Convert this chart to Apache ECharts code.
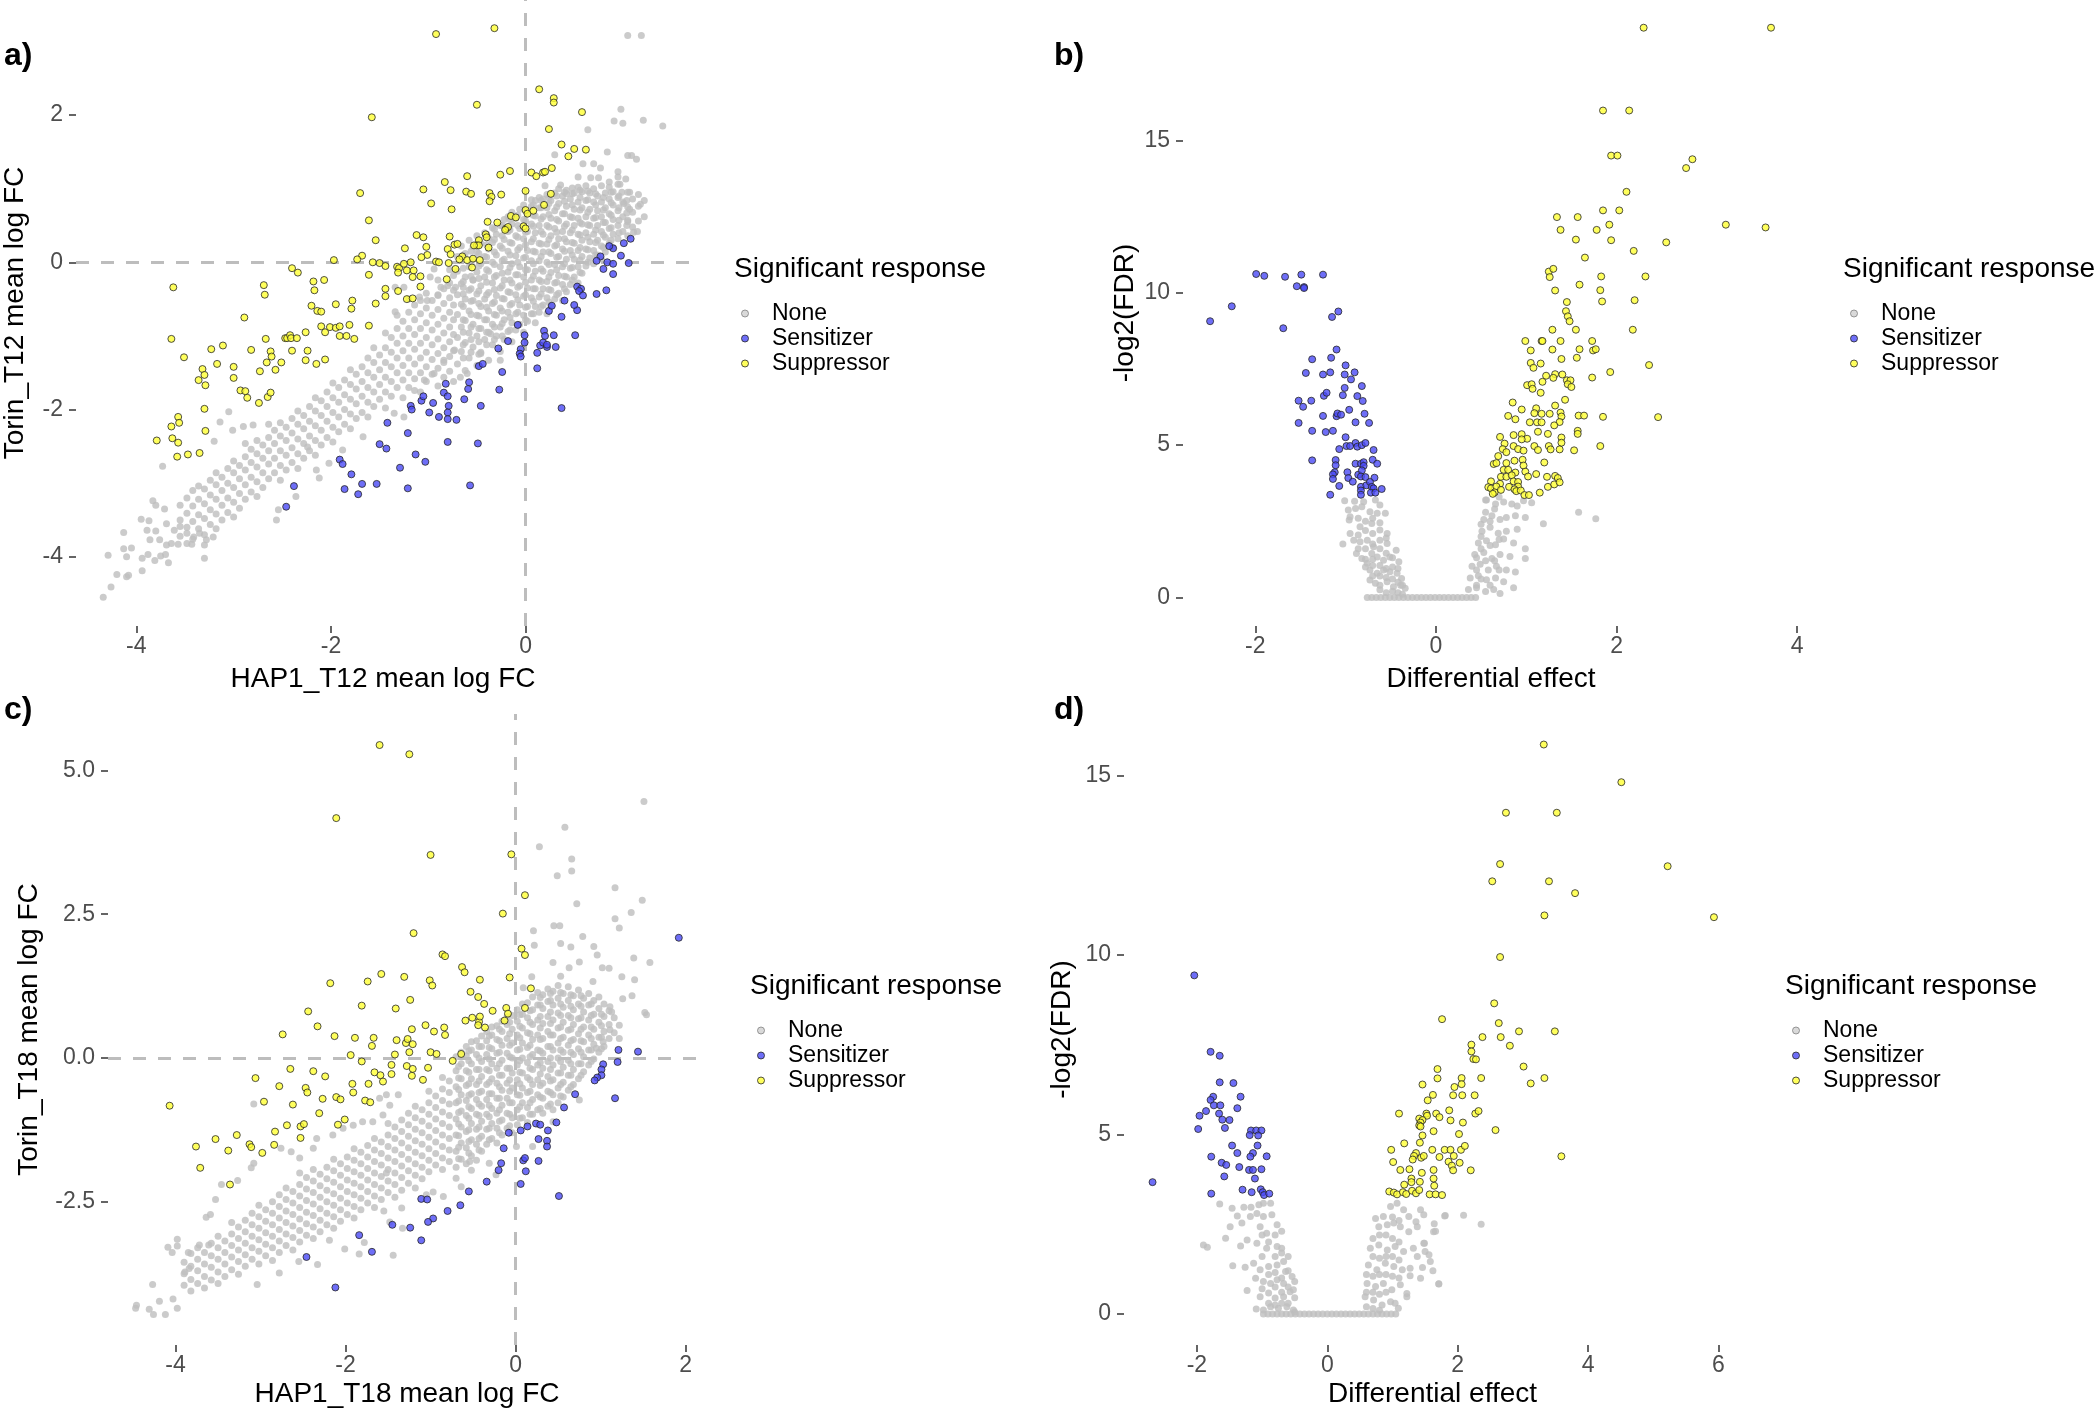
<!DOCTYPE html>
<html><head><meta charset="utf-8">
<script src="https://cdn.jsdelivr.net/npm/echarts@6/dist/echarts.min.js"></script>
<style>html,body{margin:0;padding:0;background:#fff}#c{width:2100px;height:1412px}</style>
</head><body><div id="c"></div>
<script>
// ---------------- tick labels ----------------
const aXTicks=[-4,-2,0], aYTicks=[-4,-2,0,2];
const bXTicks=[-2,0,2,4], bYTicks=[0,5,10,15];
const cXTicks=[-4,-2,0,2], cYTicks=[-2.5,0,2.5,5];
const dXTicks=[-2,0,2,4,6], dYTicks=[0,5,10,15];
const legendNames=['None','Sensitizer','Suppressor'];

// ---------------- panel a : HAP1_T12 vs Torin_T12 ----------------
const aSens=[[-1.42,-2.18],[-1.50,-2.47],[-1.43,-2.53],[-1.91,-2.68],[-1.88,-2.74],[-1.79,-2.88],[-1.68,-3.01],[-1.53,-3.01],[-1.86,-3.08],[-1.72,-3.15],[-2.38,-3.04],[-2.46,-3.32],
[-1.29,-2.79],[-1.21,-3.07],[-1.13,-2.61],[-1.03,-2.71],[-1.21,-2.32],[-1.18,-1.95],[-1.17,-2.00],[-1.07,-1.88],[-1.05,-1.82],[-0.95,-1.91],[-0.99,-2.04],[-0.89,-2.10],[-0.82,-1.65],[-0.84,-1.77],[-0.80,-1.82],[-0.79,-1.95],[-0.80,-2.04],[-0.80,-2.13],[-0.71,-2.14],[-0.80,-2.44],[-0.49,-2.46],[-0.57,-3.03],[-0.63,-1.86],[-0.59,-1.72],[-0.58,-1.63],[-0.46,-1.95],[-0.48,-1.41],[-0.44,-1.38],[-0.27,-1.73],[-0.24,-1.49],[-0.28,-1.17],[-0.18,-1.07],[-0.01,-0.99],[-0.01,-1.09],[-0.05,-1.18],[-0.06,-1.24],[-0.05,-1.28],[-0.08,-0.85],[0.12,-1.23],[0.12,-1.44],[0.15,-1.13],[0.18,-1.09],[0.22,-1.15],[0.22,-1.12],[0.19,-0.93],[0.20,-1.00],[0.29,-0.99],[0.31,-1.15],[0.51,-0.99],[0.37,-1.98],[0.37,-0.74],[0.24,-0.66],[0.53,-0.65],
[1.08,0.32],[1.01,0.26],[0.98,0.09],[1.06,-0.01],[0.90,0.19],[0.86,0.22],[0.77,0.08],[0.73,0.02],[0.84,0.00],[0.90,-0.02],[0.80,-0.09],[0.90,-0.16],[0.53,-0.33],[0.57,-0.36],[0.55,-0.39],[0.59,-0.45],[0.73,-0.43],[0.83,-0.38],[0.40,-0.52],[0.27,-0.59],[0.50,-0.58]];
const aSupp=[[-1.58,1.97],[-1.70,0.94],[-1.61,0.57],[-1.54,0.30],[-1.68,0.09],[-1.73,0.04],[-1.97,0.03],[-1.57,0.00],[-1.50,-0.01],[-1.44,-0.05],[-1.61,-0.17],[-2.40,-0.08],[-2.34,-0.14],[-2.18,-0.26],[-2.07,-0.24],[-2.17,-0.38],[-3.62,-0.34],[-2.69,-0.31],[-2.68,-0.44],[-1.78,-0.52],[-1.95,-0.57],[-1.54,-0.56],[-1.44,-0.46],[-1.44,-0.36],[-2.20,-0.59],[-2.14,-0.66],[-2.10,-0.67],[-1.79,-0.63],
[-2.89,-0.75],[-3.64,-1.04],[-3.51,-1.29],[-3.23,-1.18],[-3.11,-1.13],[-3.17,-1.38],[-3.32,-1.45],[-3.30,-1.53],[-3.36,-1.60],[-3.29,-1.67],[-3.00,-1.42],[-3.00,-1.57],[-2.82,-1.19],[-2.67,-1.04],[-2.62,-1.21],[-2.61,-1.28],[-2.66,-1.36],[-2.73,-1.48],[-2.57,-1.46],[-2.51,-1.36],[-2.47,-1.03],[-2.45,-1.03],[-2.42,-0.99],[-2.41,-1.03],[-2.35,-1.03],[-2.26,-0.95],[-2.40,-1.20],[-2.24,-1.20],[-2.26,-1.33],[-2.15,-1.38],[-2.06,-1.32],[-2.10,-0.87],[-2.06,-0.95],[-2.01,-0.88],[-1.95,-0.89],[-1.91,-0.87],[-1.81,-0.85],[-1.61,-0.86],[-1.91,-1.00],[-1.84,-1.00],[-1.76,-1.04],[-2.93,-1.74],[-2.88,-1.75],[-2.86,-1.84],[-2.74,-1.91],[-2.65,-1.83],[-2.62,-1.77],[-3.30,-1.99],[-3.57,-2.10],[-3.56,-2.18],[-3.64,-2.23],[-3.29,-2.29],[-3.79,-2.42],[-3.63,-2.39],[-3.57,-2.45],[-3.58,-2.64],[-3.47,-2.61],[-3.35,-2.59],
[-0.92,3.10],[-0.32,3.18],[-0.50,2.14],[0.14,2.35],[0.29,2.23],[0.29,2.17],[0.58,2.04],[0.24,1.81],[0.37,1.60],[0.50,1.54],[0.62,1.53],[0.44,1.44],[0.27,1.28],[0.18,1.22],[0.20,1.23],[0.06,1.22],[0.11,1.17],[-0.16,1.24],[-0.26,1.19],[-0.60,1.17],[-0.83,1.09],[-0.77,0.98],[-1.05,0.99],[-0.61,0.96],[-0.56,0.93],[-0.37,0.94],[-0.35,0.89],[-0.37,0.83],[-0.25,0.92],[0.00,0.97],[0.26,0.93],[-0.97,0.80],[-0.76,0.72],[0.19,0.78],[0.00,0.71],[0.02,0.66],[0.08,0.70],[-0.15,0.63],[-0.10,0.61],[-0.39,0.55],[-0.29,0.54],[-0.20,0.46],[-0.18,0.48],[-0.21,0.44],[-0.02,0.49],[0.00,0.46],[-1.12,0.37],[-1.05,0.34],[-0.78,0.35],[-0.41,0.38],[-0.40,0.34],[-0.48,0.30],[-0.50,0.23],[-0.48,0.23],[-0.53,0.23],[-0.38,0.20],[-0.73,0.24],[-0.70,0.25],[-0.80,0.18],[-0.77,0.11],[-1.02,0.21],[-1.01,0.10],[-1.07,0.07],[-1.24,0.19],[-0.65,0.08],[-0.60,0.03],[-0.54,0.05],[-0.47,0.03],[-0.55,-0.07],[-0.68,0.04],[-0.92,0.01],[-0.89,0.00],[-0.79,-0.01],[-0.72,-0.09],[-0.81,-0.23],[-1.32,-0.06],[-1.30,-0.08],[-1.31,-0.14],[-1.25,-0.02],[-1.18,0.00],[-1.22,-0.11],[-1.15,-0.11],[-1.16,-0.20],[-1.08,-0.19],[-1.08,-0.33],[-1.31,-0.39],[-1.22,-0.50],[-1.16,-0.49]];
const aNonePts=[[-4.34,-4.55],[-4.26,-4.41],[-4.20,-4.24],[-4.10,-4.27],[-4.08,-4.25],[-4.29,-3.98],[-4.13,-3.89],[-4.05,-3.88],[-4.10,-4.00],[-4.13,-3.67],[-3.94,-4.02],[-3.94,-4.19],[-3.88,-3.97],[-3.81,-4.05],[-3.75,-3.99],[-3.70,-3.97],[-3.67,-4.08],[-3.95,-3.49],[-3.87,-3.51],[-3.89,-3.64],[-3.80,-3.65],[-3.86,-3.77],[-3.76,-3.77],[-3.69,-3.84],[-3.64,-3.82],[-3.57,-3.83],[-3.48,-3.82],[-3.43,-3.83],[-3.30,-3.84],[-3.30,-4.02],[-3.83,-3.24],[-3.80,-3.30],[-3.73,-2.77],[-3.71,-3.35],[-3.69,-3.55],[-3.61,-3.64],[-3.55,-3.59],[-3.48,-3.68],[-3.41,-3.73],[-3.35,-3.68],[-3.28,-3.77],[-3.21,-3.73],
[-3.14,-2.17],[-3.05,-2.03],[-3.20,-2.43],[-3.01,-2.28],[-2.90,-2.23],[-2.80,-2.21],[-2.02,-2.73],[-2.15,-2.82],[-1.88,-2.55],[-1.67,-2.37],[-2.24,-2.51],[-2.12,-2.93],[-2.54,-3.36],[-2.56,-3.50],[-2.36,-3.18],
[-1.35,-2.05],[-1.25,-2.10],[-1.14,-1.74],[-1.04,-1.60],[-0.94,-1.51],[-0.84,-1.33],[-0.73,-1.19],[-0.67,-1.56],[-0.60,-1.51],[-0.46,-1.24],[-0.36,-0.97],[-0.26,-1.33],
[1.05,3.08],[1.19,3.08],[0.98,2.08],[0.91,1.92],[1.00,1.89],[1.21,1.93],[1.41,1.85],[0.64,1.80],[0.84,1.50],[1.05,1.45],[1.09,1.45],[1.14,1.40],[0.30,1.46],[0.59,1.34],[0.70,1.34],[0.77,1.28],[0.95,1.23],[0.95,1.16],[1.03,1.13],[0.54,1.16],[0.67,1.15],[0.75,1.15],[0.20,1.04],[0.36,1.05],[0.48,1.01],[0.86,1.09],[0.97,1.06],[0.99,0.95],[1.07,0.95],[1.16,0.92],[1.18,0.79],[1.01,0.80],[1.07,0.72],[1.05,0.57],[1.15,0.42],[1.11,0.41],[0.06,0.85],[0.14,0.88],[0.42,0.93],
[-0.94,-0.09],[-0.98,-0.20],[-1.34,-0.34],[-1.25,-0.34],[-0.87,-0.34],[-0.80,-0.32],[-0.72,-0.34],[-0.64,-0.34],[-0.54,-0.24],[-1.34,-0.67],[-1.09,-0.47],[-1.01,-0.52],[-0.90,-0.45]];
// dense cloud of "None" points, read column by column: [x, [y values]]
const aNoneCols=[
[-3.55,[-3.72,-3.5,-3.3]],[-3.48,[-3.6,-3.41,-3.2]],[-3.42,[-3.76,-3.52,-3.31,-3.1]],[-3.36,[-3.62,-3.43,-3.22,-3.04]],[-3.30,[-3.7,-3.48,-3.28,-3.08]],[-3.24,[-3.56,-3.36,-3.16,-2.96]],[-3.18,[-3.62,-3.42,-3.22,-3.02,-2.86]],[-3.12,[-3.5,-3.3,-3.1,-2.92]],[-3.06,[-3.4,-3.2,-3.0,-2.8]],[-3.00,[-3.46,-3.26,-3.06,-2.86,-2.7]],[-2.94,[-3.34,-3.14,-2.94,-2.76]],[-2.88,[-3.22,-3.02,-2.82,-2.64,-2.46]],[-2.82,[-3.12,-2.92,-2.72,-2.54]],[-2.76,[-3.18,-2.98,-2.78,-2.6,-2.42]],[-2.70,[-3.06,-2.86,-2.66,-2.48]],[-2.64,[-2.94,-2.74,-2.56,-2.38,-2.2]],[-2.58,[-2.86,-2.66,-2.46,-2.28]],[-2.52,[-2.96,-2.76,-2.56,-2.36,-2.18]],[-2.46,[-2.82,-2.62,-2.42,-2.24]],[-2.40,[-2.72,-2.52,-2.32,-2.12]],[-2.34,[-2.8,-2.6,-2.4,-2.2,-2.02]],[-2.28,[-2.66,-2.46,-2.26,-2.08]],[-2.22,[-2.56,-2.36,-2.16,-1.96]],[-2.16,[-2.62,-2.42,-2.22,-2.02,-1.84]],[-2.10,[-2.48,-2.28,-2.08,-1.88]],[-2.04,[-2.38,-2.16,-1.96,-1.76]],[-1.98,[-2.44,-2.24,-2.04,-1.84,-1.64]],[-1.92,[-2.3,-2.1,-1.9,-1.7]],[-1.86,[-2.2,-2.0,-1.8,-1.6]],[-1.80,[-2.26,-2.06,-1.86,-1.66,-1.46]],[-1.74,[-2.12,-1.92,-1.72,-1.52]],[-1.68,[-2.04,-1.82,-1.62,-1.42]],[-1.62,[-2.1,-1.9,-1.7,-1.5,-1.3]],[-1.56,[-1.96,-1.76,-1.56,-1.36,-1.16]],[-1.50,[-1.86,-1.66,-1.46,-1.26]],[-1.44,[-1.98,-1.76,-1.56,-1.36,-1.16,-0.96]],[-1.38,[-1.82,-1.62,-1.42,-1.22,-1.02]],[-1.32,[-1.7,-1.5,-1.3,-1.1,-0.9,-0.72]],[-1.26,[-1.84,-1.6,-1.4,-1.2,-1.0,-0.8]],[-1.20,[-1.7,-1.5,-1.3,-1.1,-0.9,-0.68,-0.5]],[-1.14,[-1.58,-1.38,-1.18,-0.98,-0.78,-0.58]],[-1.08,[-1.76,-1.5,-1.3,-1.1,-0.9,-0.7,-0.52]],[-1.02,[-1.62,-1.42,-1.22,-1.02,-0.82,-0.62,-0.42]],[-0.96,[-1.52,-1.32,-1.12,-0.92,-0.72,-0.52]],[-0.90,[-1.68,-1.44,-1.24,-1.04,-0.84,-0.64,-0.44,-0.24]],[-0.84,[-1.56,-1.36,-1.16,-0.96,-0.76,-0.56,-0.36]],[-0.78,[-1.48,-1.28,-1.08,-0.88,-0.68,-0.48,-0.28,-0.1]],[-0.74,[-1.62,-1.2,-0.98,-0.78,-0.58,-0.38,-0.18]],
[-0.70,[-1.38,-1.02,-0.71,-0.44,-0.12,0.08]],[-0.66,[-1.21,-0.88,-0.57,-0.29,0.22]],[-0.62,[-1.47,-1.09,-0.79,-0.5,-0.2,0.12]],[-0.58,[-1.3,-0.96,-0.66,-0.38,-0.06,0.3]],[-0.54,[-1.15,-0.84,-0.52,-0.24,0.04,0.21]],[-0.50,[-1.4,-1.0,-0.72,-0.43,-0.13,0.14,0.36]],[-0.46,[-1.22,-0.9,-0.6,-0.32,-0.02,0.26]],[-0.42,[-1.05,-0.78,-0.5,-0.2,0.08,0.4]],[-0.38,[-1.33,-0.95,-0.66,-0.41,-0.12,0.18,0.33]],[-0.34,[-1.12,-0.84,-0.56,-0.28,0.0,0.27,0.47]],[-0.30,[-1.0,-0.72,-0.45,-0.18,0.1,0.38]],[-0.26,[-1.21,-0.88,-0.62,-0.35,-0.06,0.22,0.5]],[-0.22,[-1.05,-0.78,-0.5,-0.24,0.04,0.31,0.58]],[-0.18,[-0.94,-0.68,-0.4,-0.13,0.15,0.42,0.62]],[-0.14,[-1.08,-0.82,-0.56,-0.28,-0.02,0.26,0.52,0.68]],[-0.10,[-0.92,-0.7,-0.44,-0.17,0.09,0.36,0.6]],[-0.06,[-0.84,-0.58,-0.32,-0.06,0.2,0.46,0.72]],[-0.02,[-0.95,-0.72,-0.46,-0.2,0.06,0.32,0.58,0.78]],[0.02,[-0.8,-0.6,-0.35,-0.1,0.16,0.42,0.66]],[0.06,[-0.7,-0.48,-0.24,0.02,0.28,0.52,0.76]],[0.10,[-0.82,-0.6,-0.36,-0.12,0.14,0.4,0.63,0.84]],[0.14,[-0.68,-0.47,-0.24,0.02,0.26,0.5,0.74]],[0.18,[-0.58,-0.36,-0.12,0.14,0.38,0.62,0.86]],[0.22,[-0.7,-0.48,-0.26,0.0,0.25,0.5,0.74,0.92]],[0.26,[-0.6,-0.38,-0.14,0.12,0.36,0.6,0.84]],[0.30,[-0.5,-0.28,-0.03,0.22,0.46,0.7,0.94]],[0.34,[-0.42,-0.18,0.08,0.32,0.56,0.8,1.0]],[0.38,[-0.52,-0.3,-0.06,0.18,0.42,0.66,0.9]],[0.42,[-0.4,-0.2,0.04,0.28,0.52,0.76,0.98]],[0.46,[-0.3,-0.08,0.16,0.4,0.62,0.86]],[0.50,[-0.2,0.04,0.26,0.5,0.72,0.94]],[0.54,[-0.28,-0.06,0.16,0.38,0.6,0.82,1.02]],[0.58,[-0.15,0.08,0.3,0.52,0.74,0.96]],[0.62,[-0.05,0.18,0.4,0.62,0.84,1.04]],[0.66,[0.06,0.28,0.5,0.72,0.94]],[0.70,[-0.02,0.16,0.38,0.6,0.82,1.0]],[0.74,[0.1,0.3,0.5,0.7,0.9]],[0.78,[0.04,0.22,0.42,0.62,0.82,1.04]],[0.82,[0.14,0.34,0.54,0.74,0.94]],[0.86,[0.26,0.46,0.66,0.86,1.02]],[0.90,[0.2,0.38,0.58,0.78,0.96]],[0.95,[0.32,0.5,0.7,0.88,1.06]],[1.00,[0.42,0.62,0.82]],[1.05,[0.36,0.55,0.75,0.95]],[1.10,[0.48,0.68,0.86]],[1.16,[0.56,0.76]],[1.22,[0.62,0.84]],
[-0.64,[-1.3,-1.12,-0.95,-0.78,-0.6,-0.43,-0.26,-0.08,0.1]],[-0.56,[-1.22,-1.05,-0.88,-0.71,-0.53,-0.36,-0.19,-0.02,0.15]],[-0.48,[-1.25,-1.08,-0.9,-0.73,-0.56,-0.39,-0.22,-0.05,0.12,0.28]],[-0.40,[-1.12,-0.95,-0.78,-0.61,-0.44,-0.27,-0.1,0.07,0.24,0.38]],[-0.32,[-1.05,-0.88,-0.71,-0.54,-0.37,-0.2,-0.03,0.14,0.31,0.45]],[-0.24,[-1.0,-0.83,-0.66,-0.49,-0.32,-0.15,0.02,0.19,0.36,0.5]],[-0.16,[-0.92,-0.75,-0.58,-0.41,-0.24,-0.07,0.1,0.27,0.44,0.58]],[-0.08,[-0.85,-0.68,-0.51,-0.34,-0.17,0.0,0.17,0.34,0.5,0.64]],[0.00,[-0.78,-0.61,-0.44,-0.27,-0.1,0.07,0.24,0.41,0.56,0.7]],[0.08,[-0.7,-0.53,-0.36,-0.19,-0.02,0.15,0.32,0.49,0.64,0.78]],[0.16,[-0.6,-0.43,-0.26,-0.09,0.08,0.25,0.42,0.59,0.74,0.84]],[0.24,[-0.54,-0.37,-0.2,-0.03,0.14,0.31,0.48,0.65,0.8,0.88]],[0.32,[-0.44,-0.27,-0.1,0.07,0.24,0.41,0.58,0.75,0.9]],[0.40,[-0.36,-0.19,-0.02,0.15,0.32,0.49,0.66,0.83,0.95]],[0.48,[-0.24,-0.07,0.1,0.27,0.44,0.61,0.78,0.93]],[0.56,[-0.14,0.03,0.2,0.37,0.54,0.71,0.88,0.98]],[0.64,[0.0,0.17,0.34,0.51,0.68,0.85,0.97]],[0.72,[0.1,0.27,0.44,0.61,0.78,0.93]],[0.80,[0.2,0.37,0.54,0.71,0.88]],[0.88,[0.3,0.47,0.64,0.81,0.95]],[0.96,[0.4,0.57,0.74,0.9]],[1.04,[0.5,0.67,0.84]]];

// ---------------- panel b : differential effect vs -log2(FDR), T12 ----------------
const bSens=[[-2.50,9.07],[-2.26,9.56],[-1.99,10.62],[-1.90,10.56],[-1.67,10.53],[-1.49,10.60],[-1.25,10.60],[-1.54,10.22],[-1.46,10.19],[-1.46,10.16],[-1.69,8.84],[-1.15,9.21],[-1.08,9.39],[-1.10,8.14],[-1.37,7.82],[-1.16,7.87],[-1.00,7.62],[-1.44,7.37],[-1.25,7.32],[-1.17,7.39],[-1.01,7.32],[-0.90,7.39],[-0.94,7.16],[-0.82,6.94],[-1.01,6.88],[-1.24,6.62],[-1.21,6.72],[-1.03,6.64],[-0.87,6.61],[-0.81,6.45],[-1.52,6.46],[-1.38,6.46],[-1.47,6.26],[-1.25,5.96],[-1.10,5.95],[-1.09,6.04],[-1.05,6.00],[-0.96,6.16],[-0.79,6.03],[-1.52,5.73],[-0.89,5.75],[-0.74,5.73],[-1.37,5.47],[-1.22,5.43],[-1.14,5.47],[-1.00,5.26],[-0.89,5.07],[-0.99,4.97],[-0.95,4.97],[-0.87,4.95],[-0.82,5.00],[-0.78,5.07],[-1.07,4.87],[-0.69,4.84],[-1.37,4.50],[-1.11,4.51],[-1.11,4.34],[-0.89,4.39],[-0.83,4.39],[-0.80,4.44],[-0.80,4.32],[-0.70,4.52],[-0.65,4.39],[-1.12,4.11],[-1.14,4.04],[-1.14,3.89],[-0.98,4.11],[-0.97,3.92],[-0.92,3.80],[-0.86,4.03],[-0.82,4.17],[-0.83,3.97],[-0.78,3.95],[-0.68,3.93],[-1.07,3.66],[-0.83,3.63],[-0.77,3.68],[-0.73,3.79],[-0.71,3.63],[-0.69,3.58],[-0.60,3.56],[-0.83,3.51],[-0.83,3.37],[-0.72,3.44],[-0.67,3.44],[-1.17,3.37]];
const bSupp=[[2.30,18.71],[3.71,18.71],[1.85,15.99],[2.14,15.99],[1.94,14.51],[2.01,14.51],[2.77,14.10],[2.84,14.39],[2.11,13.32],[1.85,12.71],[2.03,12.71],[1.34,12.49],[1.57,12.49],[1.38,12.07],[1.78,12.07],[1.92,12.24],[1.55,11.75],[1.94,11.73],[3.21,12.24],[3.65,12.15],[2.55,11.66],[2.19,11.38],[1.65,11.16],[1.25,10.70],[1.26,10.52],[1.30,10.79],[1.83,10.54],[2.32,10.54],[1.32,10.08],[1.59,10.27],[1.82,10.09],[1.84,9.72],[2.20,9.76],[1.45,9.70],[1.44,9.40],[1.46,9.23],[1.48,9.07],[1.29,8.79],[1.55,8.79],[2.18,8.79],[0.99,8.42],[1.17,8.42],[1.18,8.42],[1.38,8.42],[1.73,8.42],[1.05,8.11],[1.29,8.14],[1.59,8.15],[1.74,8.11],[1.77,8.15],[1.39,7.83],[1.56,7.87],[1.05,7.70],[1.08,7.54],[1.16,7.68],[2.36,7.63],[1.93,7.40],[1.22,7.28],[1.32,7.33],[1.40,7.32],[1.30,7.21],[1.18,7.08],[1.01,6.97],[1.06,7.00],[1.07,6.85],[1.16,6.72],[1.45,7.13],[1.49,7.13],[1.46,7.00],[1.50,6.91],[1.73,7.22],[0.85,6.40],[0.95,6.17],[1.11,6.21],[1.32,6.30],[1.43,6.49],[0.80,5.96],[0.88,5.85],[1.09,6.05],[1.17,6.03],[1.26,6.03],[1.38,6.07],[1.39,5.94],[1.58,5.97],[1.64,5.97],[1.85,5.93],[2.46,5.92],[1.04,5.75],[1.12,5.75],[1.17,5.75],[1.37,5.76],[1.31,5.65],[1.13,5.44],[1.24,5.37],[1.57,5.47],[1.57,5.37],[0.71,5.27],[0.86,5.33],[0.95,5.36],[1.01,5.21],[0.95,5.19],[0.76,5.05],[1.39,5.25],[1.39,5.08],[1.82,4.97],[0.86,4.97],[0.91,4.87],[1.09,4.97],[1.13,4.84],[1.25,4.97],[1.27,4.86],[1.37,4.86],[1.53,4.83],[0.74,4.87],[0.78,4.77],[0.97,4.82],[0.69,4.64],[0.64,4.38],[0.67,4.41],[0.78,4.41],[0.87,4.49],[0.96,4.52],[0.97,4.33],[1.20,4.43],[0.75,4.19],[0.80,4.19],[0.88,4.10],[0.99,4.13],[1.02,3.97],[1.11,4.05],[0.72,3.96],[0.78,3.96],[0.84,4.01],[1.23,3.96],[1.32,3.99],[1.35,3.92],[0.61,3.81],[0.58,3.62],[0.61,3.58],[0.71,3.73],[0.67,3.64],[0.65,3.45],[0.63,3.40],[0.72,3.53],[0.81,3.63],[0.86,3.81],[0.91,3.79],[0.91,3.64],[0.87,3.55],[0.89,3.49],[0.94,3.51],[0.98,3.36],[1.03,3.36],[1.15,3.44],[1.24,3.63],[1.31,3.71],[1.37,3.78]];
const bNonePts=[[-1.01,3.17],[-0.90,3.16],[-0.80,3.14],[-0.67,3.20],[-0.62,3.03],[-0.97,2.87],[-0.89,2.92],[-0.82,2.98],[-0.73,2.81],[-0.65,2.76],[-0.56,2.76],[-0.96,2.54],[-0.84,2.32],[-0.71,2.43],[-0.62,2.21],[-0.54,2.10],[-1.03,1.75],[-0.91,1.88],[-0.84,1.83],[-0.76,1.88],[-0.69,1.66],[-0.62,1.88],[-0.54,1.77],[-0.44,1.55],[-0.88,1.44],[-0.82,1.28],[-0.76,1.12],[-0.71,1.44],[-0.65,1.33],[-0.58,1.22],[-0.51,1.33],[-0.41,1.17],[-0.73,0.90],[-0.65,0.79],[-0.58,0.90],[-0.51,0.84],[-0.43,0.79],[-0.38,0.62],[-0.73,0.57],[-0.67,0.46],[-0.62,0.40],[-0.54,0.51],[-0.47,0.35],[-0.39,0.40],[-0.34,0.30],
[-0.95,2.65],[-0.95,2.10],[-0.86,2.60],[-0.86,2.05],[-0.86,1.60],[-0.78,2.50],[-0.78,2.20],[-0.78,1.60],[-0.78,1.25],[-0.78,1.00],[-0.70,2.60],[-0.70,2.10],[-0.70,1.75],[-0.70,1.25],[-0.70,1.05],[-0.70,0.70],[-0.62,2.45],[-0.62,1.60],[-0.62,1.05],[-0.62,0.70],[-0.62,0.25],[-0.55,1.95],[-0.55,1.45],[-0.55,0.95],[-0.55,0.65],[-0.55,0.15],[-0.48,1.30],[-0.48,1.00],[-0.48,0.60],[-0.48,0.20],[-0.42,0.95],[-0.42,0.50],[-0.42,0.15],[-0.37,0.40],[-0.37,0.10],
[0.56,3.20],[0.66,3.07],[0.75,3.13],[0.84,3.07],[0.90,3.00],[1.06,3.11],[0.97,3.17],[0.53,2.56],[0.62,2.68],[0.71,2.56],[0.78,2.62],[0.88,2.68],[0.99,2.62],[0.51,2.17],[0.60,2.30],[0.69,2.11],[0.78,2.17],[0.90,2.24],[0.47,1.79],[0.56,1.86],[0.66,1.73],[0.75,1.92],[0.86,1.79],[0.99,1.60],[0.43,1.41],[0.53,1.47],[0.62,1.28],[0.71,1.41],[0.82,1.34],[0.99,1.28],[0.40,1.02],[0.49,1.09],[0.58,0.90],[0.67,1.02],[0.78,0.90],[0.88,0.83],[0.38,0.64],[0.47,0.71],[0.56,0.58],[0.66,0.64],[0.75,0.51],[0.86,0.32],[0.36,0.26],[0.45,0.32],[0.55,0.19],[0.64,0.26],[0.71,0.13],[1.19,2.42],[1.58,2.80],[1.77,2.58],
[0.45,0.40],[0.45,0.90],[0.45,1.30],[0.50,0.60],[0.50,1.60],[0.50,2.00],[0.50,2.40],[0.55,1.20],[0.55,2.80],[0.55,3.20],[0.60,0.40],[0.60,1.70],[0.60,2.50],[0.65,1.20],[0.65,2.90],[0.70,0.90],[0.70,1.90],[0.70,3.30]];
// genes with FDR = 1 (-log2 FDR = 0), x positions
const bZeroX=[-0.76,-0.71,-0.66,-0.61,-0.56,-0.51,-0.46,-0.41,-0.36,-0.31,-0.26,-0.21,-0.16,-0.11,-0.06,-0.01,0.04,0.09,0.14,0.19,0.24,0.29,0.34,0.39,0.44];

// ---------------- panel c : HAP1_T18 vs Torin_T18 ----------------
const cSens=[[1.92,2.09],[1.44,0.11],[1.21,0.14],[1.20,-0.07],[1.03,-0.11],[1.01,-0.20],[1.01,-0.30],[0.96,-0.34],[0.93,-0.39],[1.17,-0.70],[0.70,-0.63],[0.57,-0.86],[0.48,-1.12],[0.24,-1.14],[0.29,-1.16],[0.14,-1.19],[0.06,-1.26],[-0.08,-1.30],[0.38,-1.26],[0.27,-1.41],[0.37,-1.44],[0.37,-1.54],[-0.14,-1.57],[0.27,-1.79],[0.09,-1.78],[0.11,-1.74],[0.12,-1.97],[-0.17,-1.83],[-0.20,-1.95],[0.06,-2.19],[0.51,-2.40],[-0.34,-2.15],[-0.55,-2.32],[-0.65,-2.56],[-0.80,-2.66],[-0.97,-2.79],[-1.03,-2.85],[-1.11,-2.45],[-1.04,-2.46],[-1.24,-2.95],[-1.45,-2.90],[-1.11,-3.17],[-1.84,-3.08],[-1.69,-3.37],[-2.46,-3.46],[-2.12,-3.99]];
const cSupp=[[-1.60,5.44],[-2.11,4.17],[-2.18,1.30],[-1.74,1.33],[-1.58,1.46],[-1.81,0.91],[-1.41,0.86],[-2.44,0.81],
[-1.25,5.28],[-1.00,3.53],[-0.05,3.54],[0.11,2.83],[-0.15,2.51],[-1.20,2.17],[-0.86,1.80],[-0.83,1.77],[0.07,1.90],[0.11,1.79],[-0.63,1.58],[-0.60,1.49],[-1.31,1.41],[-1.01,1.35],[-0.98,1.26],[-0.42,1.36],[-0.07,1.40],[-0.53,1.15],[-0.44,1.06],[-0.37,0.94],[0.18,1.21],[-1.24,1.01],[-0.27,0.82],[-0.11,0.87],[-0.09,0.77],[0.11,0.87],
[-0.59,0.65],[-0.51,0.70],[-0.43,0.63],[-0.42,0.72],[-0.44,0.57],[-0.36,0.53],[-0.13,0.65],[-1.22,0.50],[-1.06,0.57],[-0.96,0.46],[-0.84,0.53],[-0.83,0.40],[-1.40,0.31],[-1.29,0.26],[-1.27,0.33],[-1.21,0.24],[-1.42,0.06],[-1.25,0.10],[-1.00,0.10],[-0.93,0.07],[-0.64,0.07],[-0.74,-0.05],[-1.46,-0.12],[-1.28,-0.14],[-1.21,-0.19],[-1.03,-0.17],[-1.22,-0.31],[-1.09,-0.38],[-1.46,-0.28],
[-2.33,0.55],[-2.74,0.41],[-2.13,0.38],[-1.89,0.35],[-1.67,0.35],[-1.69,0.21],[-1.94,0.05],[-1.81,-0.06],[-1.66,-0.25],[-1.59,-0.30],[-1.56,-0.41],[-2.65,-0.19],[-2.38,-0.23],[-2.24,-0.32],[-3.06,-0.35],[-2.78,-0.49],[-2.47,-0.52],[-2.45,-0.60],[-1.92,-0.45],[-1.73,-0.45],[-1.91,-0.60],[-2.11,-0.68],[-2.06,-0.72],[-1.77,-0.74],[-1.71,-0.77],[-2.27,-0.71],[-2.96,-0.76],[-2.62,-0.81],[-2.31,-0.96],[-4.07,-0.83],[-2.01,-1.07],[-2.09,-1.16],[-2.69,-1.17],[-2.53,-1.19],[-2.49,-1.15],[-2.83,-1.28],[-2.53,-1.39],[-3.28,-1.34],[-3.53,-1.41],[-3.76,-1.54],[-3.38,-1.61],[-3.13,-1.50],[-3.11,-1.55],[-2.98,-1.65],[-2.84,-1.51],[-3.71,-1.91],[-3.36,-2.20]];
const cNonePts=[[-3.08,-0.80],[-3.08,-1.83],[-3.11,-1.91],[-3.46,-2.20],[-3.53,-2.46],[-3.27,-2.13],[-4.47,-4.35],[-4.46,-4.30],[-4.31,-4.37],[-4.26,-4.46],[-4.12,-4.46],[-4.19,-4.23],[-3.98,-4.35],[-4.03,-4.19],[-4.27,-3.94],[-4.09,-3.29],[-4.04,-3.38],[-3.98,-3.15],[-3.98,-3.27],[-3.85,-3.38],[-3.89,-3.72],[-3.84,-3.66],[-3.72,-3.25],[-3.61,-3.25],[-3.64,-2.77],[-3.59,-2.72],[-2.78,-3.74],[-3.04,-3.94],[-2.33,-3.59],[-2.55,-3.54],[-2.19,-3.17],[-2.01,-3.32],[-1.84,-3.41],[-1.78,-3.21],[-1.55,-2.66],[-1.44,-3.43],[-1.52,-2.00],
[-1.34,-2.61],[0.75,-0.73],[0.20,-1.54],[0.01,-1.54],[0.44,-1.11],[-0.31,-1.83],[-0.23,-2.03],[-0.70,-2.09],[-0.64,-2.24],[-0.54,-1.80],[-0.52,-1.95],[-0.97,-2.33],[-0.85,-2.41],[-1.05,-2.38],[-1.33,-2.96],[-1.48,-2.85],[1.22,0.57],[1.22,0.34],[1.11,0.49],[1.03,0.28],[0.95,0.17],[1.54,0.75],
[1.51,4.46],[0.58,4.01],[0.28,3.67],[0.66,3.46],[0.66,3.25],[0.49,3.17],[1.17,2.96],[1.49,2.74],[1.36,2.53],[0.72,2.68],[1.17,2.42],[1.22,2.26],[0.21,2.21],[0.45,2.30],[0.52,2.30],[0.79,2.11],[0.22,1.96],[0.53,1.99],[0.65,1.93],[0.92,1.94],[0.96,1.79],[1.39,1.74],[1.58,1.66],[0.44,1.66],[0.63,1.57],[0.75,1.67],[1.02,1.57],[1.10,1.56],[0.19,1.41],[0.53,1.42],[0.91,1.33],[1.25,1.41],[1.40,1.36],[1.26,1.03],[1.37,1.08],[1.52,0.79],[1.11,0.89],[1.13,0.80],[0.09,1.22],
[-2.76,-1.57],[-2.64,-1.63],[-2.54,-1.74],[-2.38,-1.57],[-2.34,-1.40],[-2.15,-1.34],[-2.03,-1.22],[-1.91,-1.17],[-1.80,-1.11],[-1.68,-1.11],[-1.56,-0.99],[-1.48,-0.82],[-1.38,-0.64],[-1.52,-0.64],[-1.60,-0.70]];
const cNoneCols=[
[-3.90,[-3.95,-3.75,-3.55]],[-3.82,[-4.05,-3.85,-3.62,-3.4]],[-3.74,[-3.92,-3.7,-3.5,-3.3]],[-3.66,[-4.0,-3.8,-3.58,-3.38]],[-3.58,[-3.86,-3.64,-3.44,-3.22]],[-3.50,[-3.92,-3.72,-3.5,-3.3,-3.1]],[-3.42,[-3.8,-3.58,-3.38,-3.18]],[-3.34,[-3.68,-3.46,-3.26,-3.06,-2.86]],[-3.26,[-3.76,-3.54,-3.34,-3.14,-2.94]],[-3.18,[-3.62,-3.42,-3.22,-3.02,-2.82]],[-3.10,[-3.5,-3.3,-3.1,-2.9,-2.7]],[-3.02,[-3.58,-3.36,-3.16,-2.96,-2.76,-2.56]],[-2.94,[-3.44,-3.24,-3.04,-2.84,-2.64]],[-2.86,[-3.52,-3.3,-3.1,-2.9,-2.7,-2.5]],[-2.78,[-3.38,-3.18,-2.98,-2.78,-2.58,-2.38]],[-2.70,[-3.26,-3.06,-2.86,-2.66,-2.46,-2.26]],[-2.62,[-3.34,-3.12,-2.92,-2.72,-2.52,-2.32]],[-2.54,[-3.2,-3.0,-2.8,-2.6,-2.4,-2.2,-2.0]],[-2.46,[-3.08,-2.88,-2.68,-2.48,-2.28,-2.08]],[-2.38,[-3.14,-2.94,-2.74,-2.54,-2.34,-2.14,-1.94]],[-2.30,[-3.02,-2.82,-2.62,-2.42,-2.22,-2.02]],[-2.22,[-2.9,-2.7,-2.5,-2.3,-2.1,-1.9]],[-2.14,[-2.96,-2.76,-2.56,-2.36,-2.16,-1.96,-1.76]],[-2.06,[-2.84,-2.64,-2.44,-2.24,-2.04,-1.84]],[-1.98,[-2.72,-2.52,-2.32,-2.12,-1.92,-1.72]],[-1.90,[-2.78,-2.58,-2.38,-2.18,-1.98,-1.78,-1.58]],[-1.82,[-2.64,-2.44,-2.24,-2.04,-1.84,-1.64]],[-1.74,[-2.52,-2.32,-2.12,-1.92,-1.72,-1.52]],[-1.66,[-2.6,-2.4,-2.2,-2.0,-1.8,-1.6,-1.4]],[-1.58,[-2.46,-2.26,-2.06,-1.86,-1.66,-1.46]],[-1.50,[-2.34,-2.14,-1.94,-1.74,-1.54,-1.34,-1.14]],[-1.42,[-2.42,-2.2,-2.0,-1.8,-1.6,-1.4,-1.2]],[-1.34,[-2.3,-2.08,-1.88,-1.68,-1.48,-1.28,-1.08]],[-1.26,[-2.18,-1.96,-1.76,-1.56,-1.36,-1.16,-0.96]],[-1.18,[-2.26,-2.04,-1.84,-1.64,-1.44,-1.24,-1.04,-0.84]],[-1.10,[-2.1,-1.9,-1.7,-1.5,-1.3,-1.1,-0.9]],[-1.02,[-1.98,-1.78,-1.58,-1.38,-1.18,-0.98,-0.78,-0.58]],[-0.94,[-1.86,-1.66,-1.46,-1.26,-1.06,-0.86,-0.66]],[-0.86,[-1.94,-1.74,-1.54,-1.34,-1.14,-0.94,-0.74,-0.54,-0.34]],[-0.78,[-1.8,-1.6,-1.4,-1.2,-1.0,-0.8,-0.6,-0.4]],
[-0.70,[-1.9,-1.62,-1.34,-1.06,-0.78,-0.5,-0.22,0.02]],[-0.64,[-1.76,-1.48,-1.2,-0.92,-0.64,-0.36,-0.1,0.1]],[-0.58,[-1.84,-1.56,-1.28,-1.0,-0.74,-0.48,-0.22,0.04,0.2]],[-0.52,[-1.7,-1.42,-1.14,-0.88,-0.62,-0.36,-0.1,0.14,0.28]],[-0.46,[-1.78,-1.5,-1.24,-0.98,-0.72,-0.46,-0.2,0.06,0.3]],[-0.40,[-1.62,-1.36,-1.1,-0.84,-0.58,-0.32,-0.06,0.2,0.38]],[-0.34,[-1.5,-1.24,-0.98,-0.72,-0.46,-0.2,0.06,0.3,0.46]],[-0.28,[-1.4,-1.14,-0.88,-0.62,-0.36,-0.1,0.16,0.4,0.54]],[-0.22,[-1.48,-1.22,-0.96,-0.7,-0.44,-0.18,0.08,0.32,0.56]],[-0.16,[-1.34,-1.08,-0.82,-0.56,-0.3,-0.04,0.22,0.46,0.64]],[-0.10,[-1.22,-0.96,-0.7,-0.44,-0.18,0.08,0.34,0.58,0.72]],[-0.04,[-1.3,-1.04,-0.78,-0.52,-0.26,0.0,0.26,0.5,0.74]],[0.02,[-1.16,-0.9,-0.64,-0.38,-0.12,0.14,0.4,0.64,0.84]],[0.08,[-1.04,-0.78,-0.52,-0.26,0.0,0.26,0.52,0.76,0.94]],[0.14,[-1.12,-0.86,-0.6,-0.34,-0.08,0.18,0.44,0.7,0.96]],[0.20,[-0.98,-0.72,-0.46,-0.2,0.06,0.32,0.58,0.84,1.06]],[0.26,[-0.9,-0.64,-0.38,-0.12,0.14,0.4,0.66,0.92,1.14]],[0.32,[-0.96,-0.7,-0.44,-0.18,0.08,0.34,0.6,0.86,1.1]],[0.38,[-0.84,-0.58,-0.32,-0.06,0.2,0.46,0.72,0.98,1.2]],[0.44,[-0.9,-0.64,-0.38,-0.12,0.14,0.4,0.66,0.92,1.16]],[0.50,[-0.78,-0.52,-0.26,0.0,0.26,0.52,0.78,1.04,1.26]],[0.56,[-0.68,-0.42,-0.16,0.1,0.36,0.62,0.88,1.12]],[0.62,[-0.56,-0.3,-0.04,0.22,0.48,0.74,1.0,1.24]],[0.68,[-0.46,-0.2,0.06,0.32,0.58,0.84,1.08]],[0.74,[-0.36,-0.1,0.16,0.42,0.68,0.94,1.18]],[0.80,[-0.24,0.02,0.28,0.54,0.8,1.04]],[0.86,[-0.12,0.14,0.4,0.66,0.92,1.12]],[0.92,[-0.02,0.24,0.5,0.76,1.0]],[0.98,[0.1,0.36,0.62,0.86,1.06]],[1.04,[0.2,0.46,0.72,0.94]],[1.10,[0.34,0.58,0.82]],[1.16,[0.44,0.7]],
[-0.67,[-1.75,-1.55,-1.35,-1.15,-0.95,-0.75,-0.55,-0.35,-0.15]],[-0.55,[-1.65,-1.45,-1.25,-1.05,-0.85,-0.65,-0.45,-0.25,-0.05,0.12]],[-0.43,[-1.6,-1.4,-1.2,-1.0,-0.8,-0.6,-0.4,-0.2,0.0,0.2]],[-0.31,[-1.42,-1.22,-1.02,-0.82,-0.62,-0.42,-0.22,-0.02,0.18,0.38]],[-0.19,[-1.3,-1.1,-0.9,-0.7,-0.5,-0.3,-0.1,0.1,0.3,0.5]],[-0.07,[-1.18,-0.98,-0.78,-0.58,-0.38,-0.18,0.02,0.22,0.42,0.62]],[0.05,[-1.05,-0.85,-0.65,-0.45,-0.25,-0.05,0.15,0.35,0.55,0.75]],[0.17,[-0.98,-0.78,-0.58,-0.38,-0.18,0.02,0.22,0.42,0.62,0.82]],[0.29,[-0.88,-0.68,-0.48,-0.28,-0.08,0.12,0.32,0.52,0.72,0.92,1.05]],[0.41,[-0.8,-0.6,-0.4,-0.2,0.0,0.2,0.4,0.6,0.8,1.0,1.12]],[0.53,[-0.66,-0.46,-0.26,-0.06,0.14,0.34,0.54,0.74,0.94,1.14]],[0.65,[-0.5,-0.3,-0.1,0.1,0.3,0.5,0.7,0.9,1.1]],[0.77,[-0.3,-0.1,0.1,0.3,0.5,0.7,0.9,1.08]],[0.89,[-0.06,0.14,0.34,0.54,0.74,0.94]],[1.01,[0.16,0.36,0.56,0.76]]];

// ---------------- panel d : differential effect vs -log2(FDR), T18 ----------------
const dSens=[[-2.04,9.43],[-2.68,3.67],[-1.79,7.30],[-1.65,7.19],[-1.65,6.45],[-1.44,6.43],[-1.33,6.05],[-1.75,6.05],[-1.79,5.96],[-1.74,5.81],[-1.64,5.81],[-1.38,5.73],[-1.86,5.65],[-1.96,5.52],[-1.66,5.58],[-1.61,5.41],[-1.50,5.40],[-1.98,5.15],[-1.57,5.18],[-1.17,5.11],[-1.09,5.11],[-1.01,5.11],[-1.19,4.98],[-1.06,4.97],[-1.46,4.69],[-1.07,4.69],[-1.38,4.48],[-1.14,4.48],[-1.18,4.38],[-0.93,4.39],[-1.78,4.38],[-1.62,4.21],[-1.55,4.15],[-1.35,4.09],[-1.20,4.01],[-1.14,4.01],[-1.01,4.03],[-1.58,3.83],[-1.11,3.77],[-1.30,3.46],[-1.16,3.39],[-1.78,3.35],[-1.02,3.47],[-0.99,3.39],[-0.97,3.31],[-0.89,3.35]];
const dSupp=[[1.76,8.21],[1.69,6.82],[1.69,6.56],[1.46,6.39],[1.62,6.10],[1.54,5.95],[1.10,5.58],[1.52,5.58],[1.53,5.52],[1.67,5.58],[1.72,5.48],[1.41,5.44],[1.46,5.40],[1.43,5.33],[1.41,5.25],[1.43,5.22],[1.63,5.09],[1.46,4.97],[1.42,4.77],[1.18,4.75],[0.98,4.57],[1.01,4.23],[1.36,4.48],[1.33,4.40],[1.31,4.30],[1.44,4.35],[1.48,4.40],[1.61,4.57],[1.72,4.37],[1.80,4.57],[1.12,4.01],[1.26,4.03],[1.45,3.93],[1.63,4.01],[1.29,3.77],[1.63,3.77],[1.18,3.60],[1.29,3.67],[1.42,3.68],[1.64,3.57],[0.95,3.41],[1.02,3.38],[1.07,3.33],[1.16,3.39],[1.21,3.34],[1.30,3.43],[1.36,3.36],[1.41,3.45],[1.57,3.33],[1.66,3.33],[1.76,3.31],
[3.32,15.86],[4.51,14.81],[2.74,13.96],[3.52,13.96],[2.65,12.53],[5.22,12.47],[2.53,12.05],[3.40,12.05],[3.80,11.72],[3.33,11.10],[5.93,11.05],[2.65,9.94],[2.56,8.65],[2.63,8.10],[2.94,7.87],[3.49,7.87],[2.38,7.71],[2.66,7.71],[2.80,7.47],[2.21,7.50],[2.21,7.31],[2.24,7.10],[2.28,7.09],[3.01,6.89],[3.12,6.42],[3.33,6.57],[2.06,6.57],[2.06,6.40],[1.95,6.32],[2.36,6.57],[1.93,6.09],[2.07,6.09],[2.26,6.09],[1.87,5.67],[1.89,5.39],[2.08,5.33],[2.27,5.58],[2.32,5.65],[2.58,5.12],[2.02,5.01],[1.89,4.57],[2.05,4.57],[2.11,4.68],[1.94,4.40],[1.86,4.24],[1.91,4.13],[1.93,4.00],[2.03,4.21],[2.20,4.00],[3.59,4.39]];
const dNonePts=[[-1.65,3.06],[-1.46,2.94],[-1.38,2.73],[-1.28,2.97],[-1.17,2.97],[-1.05,3.04],[-0.98,3.08],[-0.87,3.08],[-1.49,2.43],[-1.31,2.53],[-1.18,2.71],[-1.08,2.80],[-0.98,2.71],[-0.85,2.76],[-0.77,2.48],[-1.03,2.43],[-0.93,2.25],[-1.90,1.92],[-1.84,1.86],[-1.56,2.11],[-1.33,1.89],[-1.23,2.06],[-1.08,1.97],[-0.93,1.83],[-0.77,1.88],[-0.70,1.83],[-1.45,1.34],[-1.26,1.30],[-1.13,1.41],[-1.03,1.23],[-0.90,1.32],[-0.77,1.36],[-0.67,1.46],[-0.64,1.18],[-1.10,0.99],[-0.98,0.90],[-0.87,0.85],[-0.77,0.95],[-0.67,0.85],[-0.54,1.04],[-1.23,0.65],[-1.09,0.14],[-1.03,0.48],[-0.90,0.58],[-0.80,0.44],[-0.67,0.48],[-0.57,0.62],[-0.52,0.67],[-0.98,0.11],[-0.87,0.20],[-0.75,0.16],[-0.62,0.20],[-0.52,0.11],
[-1.00,2.20],[-1.00,1.60],[-1.00,0.70],[-0.90,2.00],[-0.90,1.10],[-0.90,0.30],[-0.80,2.20],[-0.80,1.60],[-0.80,1.15],[-0.80,0.75],[-0.80,0.25],[-0.70,2.30],[-0.70,1.70],[-0.70,1.00],[-0.70,0.60],[-0.70,0.30],[-0.60,1.60],[-0.60,1.20],[-0.60,0.75],[-0.60,0.30],[-0.50,0.90],[-0.50,0.45],[-0.50,0.05],
[0.74,2.66],[0.86,2.71],[0.97,2.99],[1.07,3.08],[1.17,2.90],[1.25,2.71],[1.36,2.57],[1.48,2.76],[1.43,2.90],[0.79,2.43],[0.92,2.48],[1.02,2.53],[1.12,2.43],[1.25,2.29],[1.38,2.43],[1.63,2.29],[1.81,2.74],[1.48,1.97],[0.66,1.83],[0.79,1.92],[0.92,1.78],[1.04,1.88],[1.17,1.74],[1.32,1.83],[1.50,1.74],[1.58,1.46],[0.63,1.36],[0.76,1.23],[0.89,1.41],[1.02,1.32],[1.15,1.23],[1.27,1.27],[1.43,0.99],[1.71,0.83],[0.61,0.85],[0.74,0.76],[0.86,0.85],[0.99,0.67],[1.12,0.81],[1.22,0.48],[1.04,0.30],[0.58,0.48],[0.71,0.39],[0.84,0.25],[0.97,0.34],[1.09,0.16],
[1.80,2.73],[2.09,2.75],[2.36,2.50],[1.64,2.51],[1.66,2.30],[1.49,1.97],[1.56,1.65],[1.38,1.60],[1.46,1.29],[1.62,1.20],[1.71,0.84],[1.27,1.06],[1.22,0.57],
[0.60,1.10],[0.60,0.60],[0.60,0.20],[0.70,2.10],[0.70,1.60],[0.70,1.05],[0.70,0.60],[0.70,0.15],[0.80,2.20],[0.80,1.55],[0.80,1.10],[0.80,0.55],[0.80,0.10],[0.90,2.20],[0.90,1.60],[0.90,1.10],[0.90,0.60],[1.00,2.70],[1.00,2.10],[1.00,1.60],[1.00,1.05],[1.10,2.60],[1.10,2.00],[1.10,1.50],[1.10,1.00]];
const dZeroX=[-0.98,-0.91,-0.84,-0.77,-0.70,-0.63,-0.56,-0.49,-0.42,-0.35,-0.28,-0.21,-0.14,-0.07,0.00,0.07,0.14,0.21,0.28,0.35,0.42,0.49,0.56,0.63,0.70,0.77,0.84,0.91,0.98,1.05];

// ---------------- build ----------------
function fromCols(cols){const out=[];cols.forEach(c=>c[1].forEach(y=>out.push([c[0],y])));return out;}
function fromZero(xs){return xs.map(x=>[x,0]);}
const FONT='"Liberation Sans", Arial, Helvetica, sans-serif';
const GREY='#bebebe', BLUE='#4a4af5', YEL='#ffff33', EDGE='#262626';

const panels=[
 {grid:{left:74,top:0,width:616,height:626}, x:[-4.62,1.69], y:[-4.94,3.563], xt:aXTicks, yt:aYTicks,
  xn:'HAP1_T12 mean log FC', yn:'Torin_T12 mean log FC', xg:39, yg:47,
  none:aNonePts.concat(fromCols(aNoneCols)), sens:aSens, supp:aSupp, ref:true, fmt:v=>String(v),
  leg:[736,296], title:[734,269]},
 {grid:{left:1183,top:0,width:616,height:626}, x:[-2.80,4.02], y:[-0.94,19.62], xt:bXTicks, yt:bYTicks,
  xn:'Differential effect', yn:'-log2(FDR)', xg:39, yg:44,
  none:bNonePts.concat(fromZero(bZeroX)), sens:bSens, supp:bSupp, ref:false, fmt:v=>String(v),
  leg:[1845,296], title:[1843,269]},
 {grid:{left:108,top:714,width:598,height:631}, x:[-4.795,2.24], y:[-4.99,5.98], xt:cXTicks, yt:cYTicks,
  xn:'HAP1_T18 mean log FC', yn:'Torin_T18 mean log FC', xg:35, yg:65,
  none:cNonePts.concat(fromCols(cNoneCols)), sens:cSens, supp:cSupp, ref:true, fmt:v=>v.toFixed(1),
  leg:[752,1013], title:[750,986]},
 {grid:{left:1124,top:714,width:617,height:631}, x:[-3.118,6.345], y:[-0.866,16.71], xt:dXTicks, yt:dYTicks,
  xn:'Differential effect', yn:'-log2(FDR)', xg:35, yg:48,
  none:dNonePts.concat(fromZero(dZeroX)), sens:dSens, supp:dSupp, ref:false, fmt:v=>String(v),
  leg:[1787,1013], title:[1785,986]}
];

const grid=[], xAxis=[], yAxis=[], series=[], legend=[], graphic=[];
panels.forEach((p,i)=>{
  grid.push(p.grid);
  const common={gridIndex:i,type:'value',axisLine:{show:false,onZero:false},splitLine:{show:false},
    axisTick:{show:true,length:7,lineStyle:{color:'#333333',width:1.5}},
    nameLocation:'middle',nameTextStyle:{fontSize:28,color:'#000',fontFamily:FONT}};
  xAxis.push(Object.assign({},common,{position:'bottom',min:p.x[0],max:p.x[1],name:p.xn,nameGap:p.xg,
    axisTick:Object.assign({},common.axisTick,{customValues:p.xt}),
    axisLabel:{customValues:p.xt,fontSize:23,color:'#4d4d4d',fontFamily:FONT,margin:9,formatter:v=>String(v)}}));
  yAxis.push(Object.assign({},common,{position:'left',min:p.y[0],max:p.y[1],name:p.yn,nameGap:p.yg,nameRotate:90,
    axisTick:Object.assign({},common.axisTick,{customValues:p.yt}),
    axisLabel:{customValues:p.yt,fontSize:23,color:'#4d4d4d',fontFamily:FONT,margin:13,formatter:p.fmt}}));
  if(p.ref){
    series.push({type:'scatter',name:'ref'+i,xAxisIndex:i,yAxisIndex:i,data:[],silent:true,z:1,
      markLine:{silent:true,symbol:'none',z:1,animation:false,label:{show:false},
        lineStyle:{color:'#bdbdbd',width:3,type:[13,12]},data:[{xAxis:0},{yAxis:0}]}});
  }
  series.push({type:'scatter',name:'None',xAxisIndex:i,yAxisIndex:i,data:p.none,symbolSize:7,silent:true,z:2,
    itemStyle:{color:GREY}});
  series.push({type:'scatter',name:'Sensitizer',xAxisIndex:i,yAxisIndex:i,data:p.sens,symbolSize:7,silent:true,z:3,
    itemStyle:{color:BLUE,borderColor:EDGE,borderWidth:1}});
  series.push({type:'scatter',name:'Suppressor',xAxisIndex:i,yAxisIndex:i,data:p.supp,symbolSize:7,silent:true,z:4,
    itemStyle:{color:YEL,borderColor:EDGE,borderWidth:1}});
  legend.push({left:p.leg[0],top:p.leg[1],orient:'vertical',itemWidth:42,itemHeight:7,itemGap:0,selectedMode:false,
    textStyle:{fontSize:23,color:'#000',fontFamily:FONT,lineHeight:25,padding:[0,0,0,1]},
    data:[{name:'None',icon:'circle',itemStyle:{color:'#d0d0d0',borderColor:'#7f7f7f',borderWidth:1}},
          {name:'Sensitizer',icon:'circle',itemStyle:{color:BLUE,borderColor:EDGE,borderWidth:1}},
          {name:'Suppressor',icon:'circle',itemStyle:{color:YEL,borderColor:EDGE,borderWidth:1}}]});
  graphic.push({type:'text',x:p.title[0],y:p.title[1],style:{text:'Significant response',fontSize:28,fontFamily:FONT,fill:'#000',align:'left',verticalAlign:'middle'}});
});
[['a)',4,56],['b)',1054,56],['c)',4,710],['d)',1054,710]].forEach(t=>{
  graphic.push({type:'text',x:t[1],y:t[2],style:{text:t[0],fontSize:32,fontWeight:'bold',fontFamily:FONT,fill:'#000',align:'left',verticalAlign:'middle'}});
});

const chart=echarts.init(document.getElementById('c'),null,{renderer:'canvas'});
chart.setOption({animation:false,backgroundColor:'#fff',textStyle:{fontFamily:FONT},grid,xAxis,yAxis,series,legend,graphic});
</script></body></html>
